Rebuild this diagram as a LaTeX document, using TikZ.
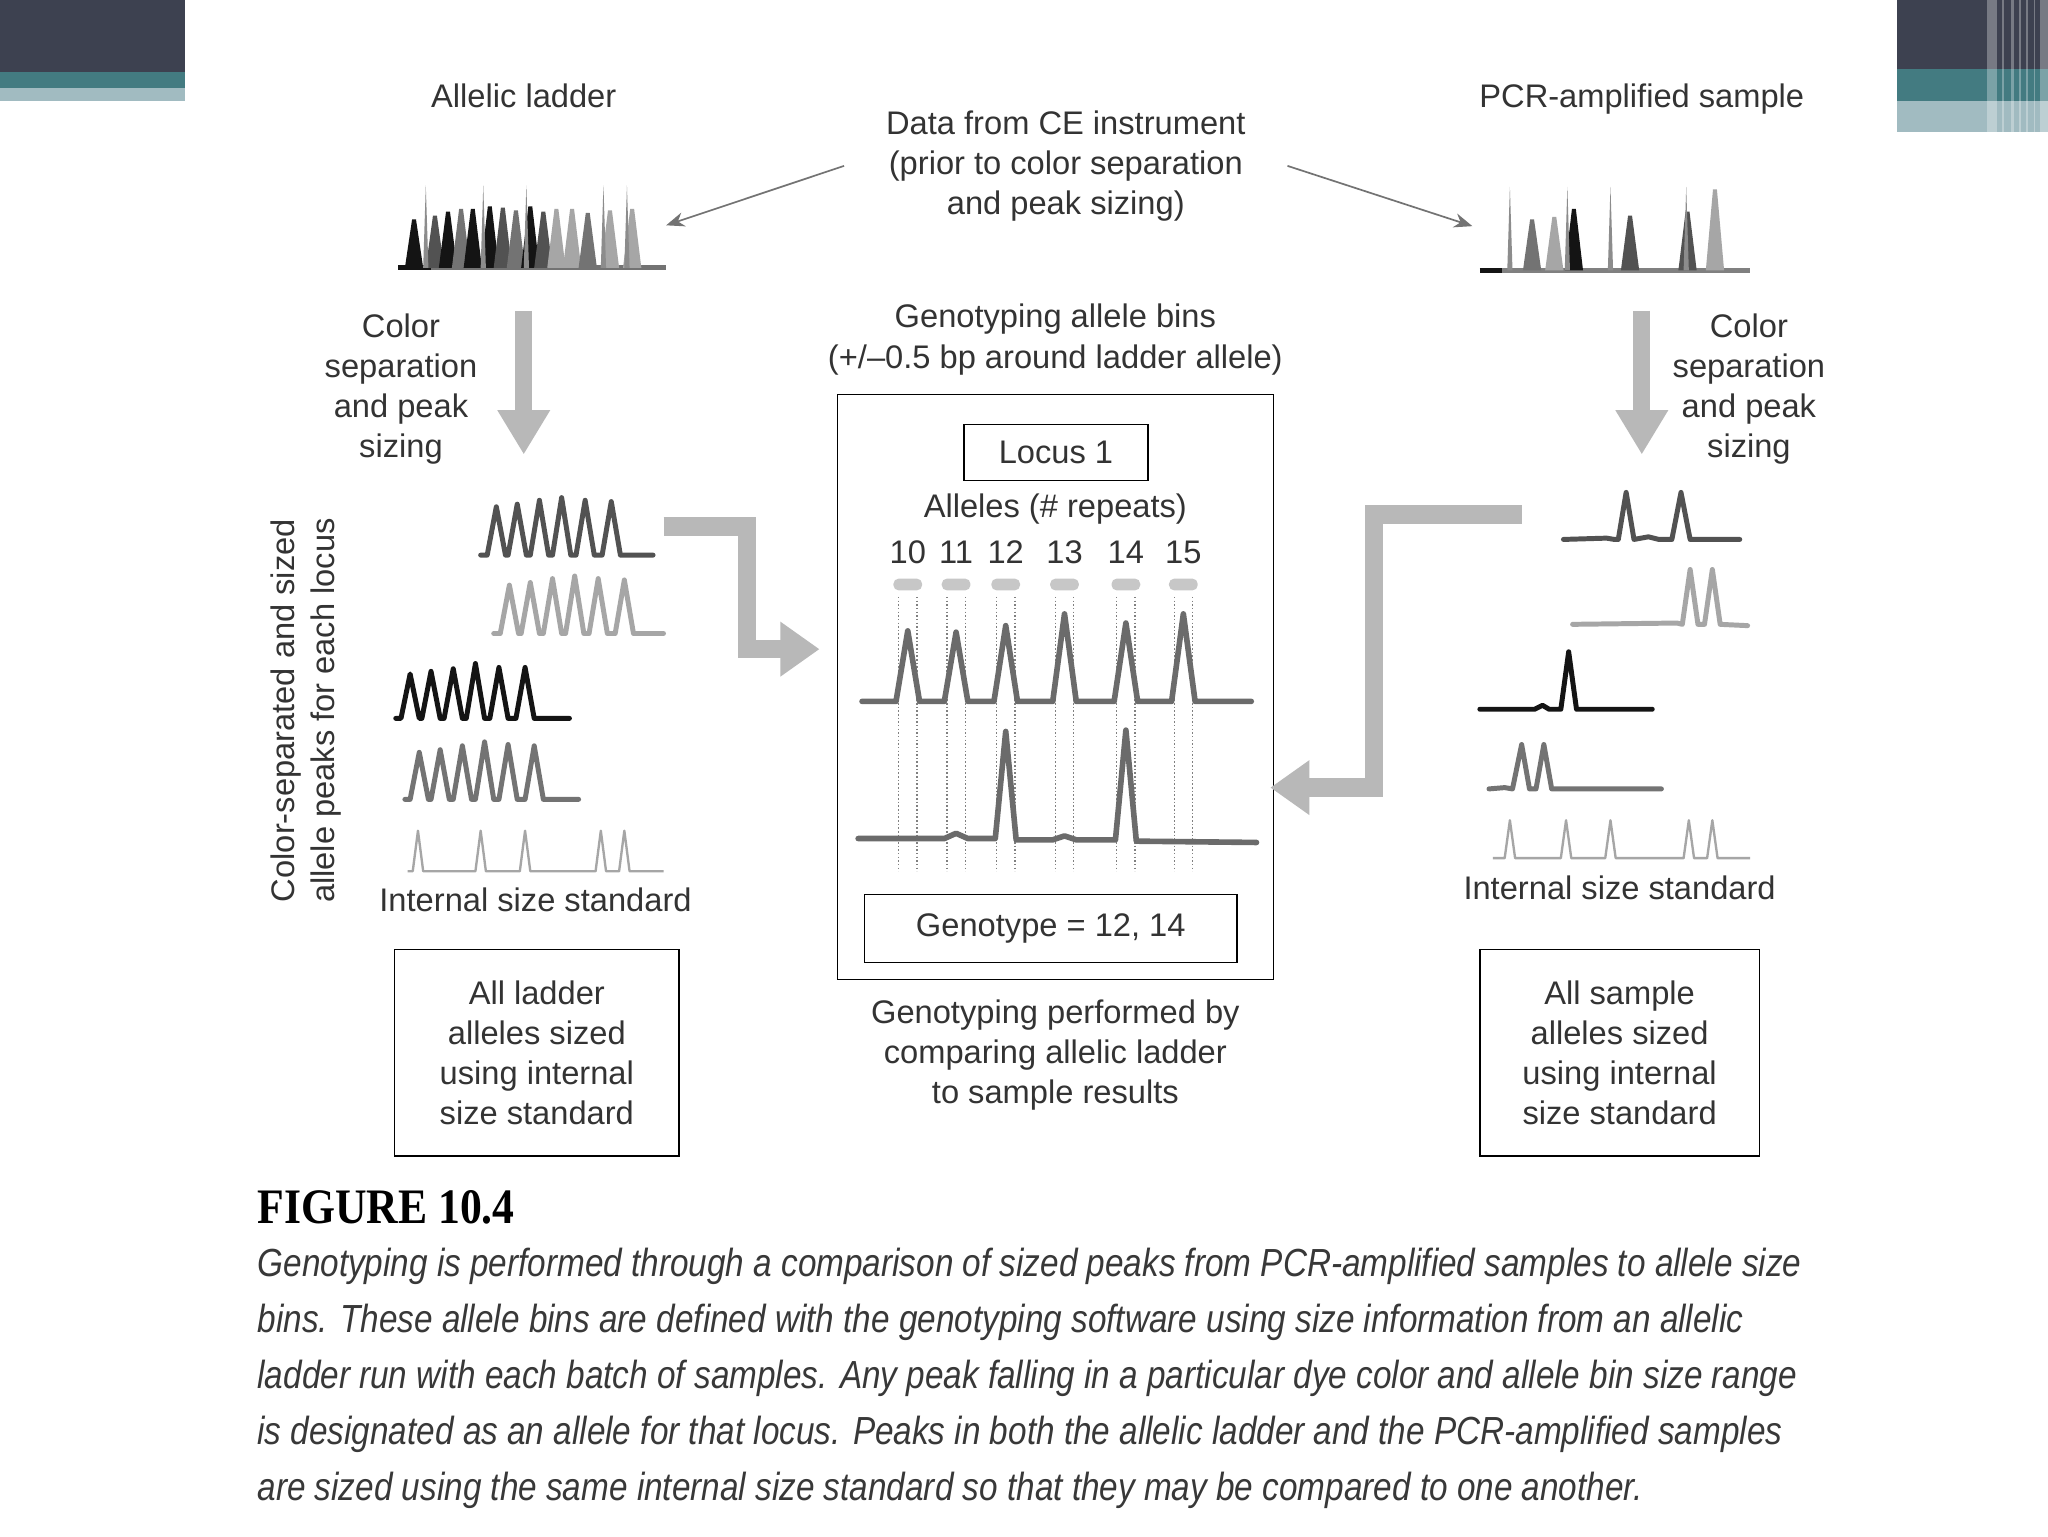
\documentclass[tikz,border=0pt]{standalone}
\usepackage{fontspec}
\setmainfont{Liberation Sans}
\newfontfamily\capfont[FakeStretch=0.85]{Liberation Sans}
\newfontfamily\fignofont[FakeStretch=0.88]{Liberation Serif}
\usetikzlibrary{positioning,arrows.meta,calc}

\definecolor{bannerdark}{HTML}{3D4150}
\definecolor{bannerteal}{HTML}{437B81}
\definecolor{bannerlight}{HTML}{A1BBC1}
\colorlet{labelgray}{black!80}
\colorlet{arrowgray}{black!28}
\colorlet{tracedark}{black!68}
\colorlet{tracemid}{black!55}
\colorlet{tracelight}{black!35}
\colorlet{traceblack}{black!92}

\begin{document}
\begin{tikzpicture}[
    x=1pt, y=-1pt,
    font=\fontsize{25}{30.7}\selectfont,
    lbl/.style={text=labelgray, align=center, inner sep=2pt},
    box/.style={draw, line width=1.1pt, align=center, text=labelgray, inner sep=0pt},
    spot/.style={inner sep=0pt, outer sep=0pt},
    bigarr/.style={draw=arrowgray, line width=13pt, -{Triangle[width=38pt,length=34pt]}},
    thinarr/.style={draw=black!55, line width=1.3pt, -{Stealth[length=14pt,width=11pt]}},
    trace/.style={line width=3.8pt, line join=round, line cap=round},
    stdtrace/.style={line width=1.8pt, tracelight, line join=round},
    binline/.style={black!50, line width=1pt, dash pattern=on 1.2pt off 1.6pt},
]
% page is 1568 x 1176 (units = pt), y grows downwards
\fill[white] (0,0) rectangle (1568,1176);
\useasboundingbox (0,0) rectangle (1568,1176);

% ---------------- slide banners ----------------
\fill[bannerdark] (0,0) rectangle (142,55);
\fill[bannerteal] (0,55) rectangle (142,67);
\fill[bannerlight] (0,67) rectangle (142,77);
\fill[bannerdark] (1452,0) rectangle (1568,53);
\fill[bannerteal] (1452,53) rectangle (1568,77);
\fill[bannerlight] (1452,77) rectangle (1568,101);
\foreach \sx/\sw in {1521/8,1533/1.5,1540/2,1546/1,1551/1.5,1557/1,1562/6}
    \fill[white, opacity=0.3] (\sx,0) rectangle (\sx+\sw,101);

% ---------------- top row: raw data ----------------
\node[lbl, anchor=base] (ladlbl) at (401,82) {Allelic ladder};
\node[lbl, anchor=base] (smplbl) at (1257,82) {PCR-amplified sample};
\node[lbl, inner xsep=32pt] (data) at (816,127) {Data from CE instrument\\(prior to color separation\\and peak sizing)};

% allelic ladder, all colours together
\draw[line width=3.5pt, black!55] (305,205) -- (510,205);
\draw[line width=3.5pt, traceblack] (305,205) -- (330,205);
\foreach \p/\t/\c in {317/168/traceblack, 333/165/tracedark, 343/162/traceblack,
    353/160/tracemid, 362/160/traceblack, 375/158/traceblack, 385/159/tracedark,
    395/161/tracemid, 406/158/traceblack, 416/162/tracedark, 426/160/tracelight,
    438/160/tracelight, 450/163/tracemid, 467/161/tracelight, 484/160/tracelight}
    \fill[fill=\c] (\p-7,205) -- (\p-1.5,\t) -- (\p+1.5,\t) -- (\p+7,205) -- cycle;
\foreach \p in {326,370,403,462,480}
    \fill[black!45] (\p-2,205) -- (\p,142) -- (\p+2,205) -- cycle;
\node[spot, minimum width=218pt, minimum height=65pt] (ladraw) at (401,172.5) {};

% PCR sample, all colours together
\draw[line width=3.5pt, black!50] (1133,207) -- (1340,207);
\draw[line width=3.5pt, traceblack] (1133,207) -- (1150,207);
\foreach \p/\t/\c in {1173/168/tracemid, 1190/166/tracelight, 1205/160/traceblack,
    1248/165/tracedark, 1292/162/tracedark, 1313/145/tracelight}
    \fill[fill=\c] (\p-7,207) -- (\p-1.5,\t) -- (\p+1.5,\t) -- (\p+7,207) -- cycle;
\foreach \p in {1156,1200,1233,1291}
    \fill[black!45] (\p-2,207) -- (\p,143) -- (\p+2,207) -- cycle;
\node[spot, minimum width=248pt, minimum height=64pt] (smpraw) at (1257,175) {};

\draw[thinarr] (data.west) -- (ladraw.east);
\draw[thinarr, shorten >=6pt] (data.east) -- (smpraw.west);

% ---------------- left column: ladder ----------------
\node[lbl] (ladsep) at (307,298) {Color\\separation\\and peak\\sizing};
\node[lbl, rotate=90] (ladside) at (234,544) {Color-separated and sized\\allele peaks for each locus};

\draw[trace, tracedark] (368,425) foreach \p/\t in {380/388,396/386,413/383,430/381,448/383,468/384}
    { -- (\p-7,425) -- (\p,\t) -- (\p+7,425) } -- (500,425);
\draw[trace, tracelight] (378,485) foreach \p/\t in {390/448,406/446,423/443,440/441,458/443,478/444}
    { -- (\p-7,485) -- (\p,\t) -- (\p+7,485) } -- (508,485);
\draw[trace, traceblack] (303,550) foreach \p/\t in {314/516,330/514,347/512,364/508,382/511,402/511}
    { -- (\p-7,550) -- (\p,\t) -- (\p+7,550) } -- (436,550);
\draw[trace, tracemid] (310,612) foreach \p/\t in {321/576,337/574,354/571,371/568,389/570,409/571}
    { -- (\p-7,612) -- (\p,\t) -- (\p+7,612) } -- (443,612);
\draw[stdtrace] (312,667) foreach \p in {320,368,402,460,478}
    { -- (\p-4,667) -- (\p,636) -- (\p+4,667) } -- (508,667);
\node[spot, minimum width=132pt, minimum height=50pt] (lt1) at (434,403) {};
\node[spot, minimum width=130pt, minimum height=48pt] (lt2) at (443,463) {};
\node[spot, minimum width=133pt, minimum height=44pt] (lt3) at (369.5,530) {};
\node[spot, minimum width=133pt, minimum height=46pt] (lt4) at (376.5,591) {};
\node[spot, minimum width=196pt, minimum height=34pt] (lt5) at (410,651) {};

\node[lbl] (ladstd) at (410,689) {Internal size standard};
\node[box, minimum width=218pt, minimum height=158pt] (ladbox) at (411,806)
    {All ladder\\alleles sized\\using internal\\size standard};

% ---------------- centre: genotyping ----------------
\node[lbl] (bins) at (808,260) {Genotyping allele bins\\(+/--0.5 bp around ladder allele)};
\node[box, minimum width=334pt, minimum height=448pt] (gtbox) at (808,526) {};
\node[box, minimum width=141pt, minimum height=43pt] (locus) at (808.5,346.5) {Locus 1};
\node[lbl] (alleles) at (808,390) {Alleles (\# repeats)};
\foreach \a/\x in {10/695,11/732,12/770,13/815,14/862,15/906} {
    \node[lbl, inner sep=0pt] (n\a) at (\x,423) {\a};
    \fill[black!22, rounded corners=4pt] (\x-11,443) rectangle (\x+11,452);
    \draw[binline] (\x-7,457) -- (\x-7,667);
    \draw[binline] (\x+7,457) -- (\x+7,667);
}
\draw[trace, line width=4.3pt, black!58] (660,537)
    foreach \x/\t in {695/483,732/484,770/479,815/470,862/477,906/470}
    { -- (\x-9,537) -- (\x,\t) -- (\x+9,537) } -- (958,537);
\draw[trace, line width=4.3pt, black!58] (657,642) -- (723,642) -- (732,638) -- (741,642)
    -- (762,642) -- (770,560) -- (778,643) -- (806,643) -- (815,640) -- (824,643)
    -- (854,643) -- (862,559) -- (870,644) -- (962,645);
\node[spot, minimum width=300pt, minimum height=80pt] (ladpk) at (809,497) {};
\node[spot, minimum width=305pt, minimum height=84pt] (smppk) at (809,603) {};

\node[box, minimum width=285pt, minimum height=52pt] (geno) at (804.5,711) {Genotype = 12, 14};
\node[lbl] (gtnote) at (808,808) {Genotyping performed by\\comparing allelic ladder\\to sample results};

% ---------------- right column: sample ----------------
\node[lbl] (smpsep) at (1339,298) {Color\\separation\\and peak\\sizing};

\draw[trace, tracedark] (1197,413) -- (1230,412) -- (1236,413) -- (1239,413) -- (1245,377)
    -- (1251,413) -- (1262,411) -- (1270,413) -- (1280,413) -- (1287,377) -- (1294,413) -- (1332,413);
\draw[trace, tracelight] (1204,478) -- (1284,477) -- (1288,478) -- (1294,436) -- (1300,478)
    -- (1305,478) -- (1311,436) -- (1317,478) -- (1338,479);
\draw[trace, traceblack] (1133,543) -- (1175,543) -- (1181,540) -- (1186,543) -- (1195,543)
    -- (1201,499) -- (1207,543) -- (1265,543);
\draw[trace, tracemid] (1140,604) -- (1152,603) -- (1158,604) -- (1165,570) -- (1171,604)
    -- (1176,604) -- (1182,570) -- (1188,604) -- (1272,604);
\draw[stdtrace] (1143,657) foreach \p in {1156,1199,1233,1293,1311}
    { -- (\p-4,657) -- (\p,628) -- (\p+4,657) } -- (1340,657);
\node[spot, minimum width=135pt, minimum height=44pt] (rt1) at (1264.5,394) {};
\node[spot, minimum width=134pt, minimum height=46pt] (rt2) at (1271,457) {};
\node[spot, minimum width=132pt, minimum height=48pt] (rt3) at (1199,521) {};
\node[spot, minimum width=132pt, minimum height=38pt] (rt4) at (1206,587) {};
\node[spot, minimum width=197pt, minimum height=32pt] (rt5) at (1241.5,642) {};

\node[lbl] (smpstd) at (1240,680) {Internal size standard};
\node[box, minimum width=214pt, minimum height=158pt] (smpbox) at (1240,806)
    {All sample\\alleles sized\\using internal\\size standard};

% ---------------- big grey arrows ----------------
\draw[bigarr, shorten <=33pt, shorten >=30pt] (ladraw.south) -- (ladraw.south |- lt1.north);
\draw[bigarr, shorten <=31pt, shorten >=24pt] (smpraw.south) -- (smpraw.south |- rt1.north);
\draw[bigarr, line width=14pt, -{Triangle[width=40pt,length=30pt]}, shorten <=8pt, shorten >=13pt]
    (lt1.east) -- ++(72,0) |- (gtbox.west |- ladpk.center);
\draw[bigarr, line width=14pt, -{Triangle[width=40pt,length=30pt]}, shorten <=32pt, shorten >=-3pt]
    (rt1.west) -- ++(-145,0) |- (gtbox.east |- smppk.center);

% ---------------- caption ----------------
\node[anchor=base west, inner sep=0pt, font=\fontsize{38}{40}\fignofont\bfseries] (figno)
    at (197,937) {FIGURE 10.4};
\node[anchor=north west, inner sep=0pt, align=left, text=black!78,
      font=\fontsize{30}{43}\capfont\itshape] (caption) at (197,955)
    {Genotyping is performed through a comparison of sized peaks from PCR-amplified samples to allele size\\
     bins. These allele bins are defined with the genotyping software using size information from an allelic\\
     ladder run with each batch of samples. Any peak falling in a particular dye color and allele bin size range\\
     is designated as an allele for that locus. Peaks in both the allelic ladder and the PCR-amplified samples\\
     are sized using the same internal size standard so that they may be compared to one another.};
\end{tikzpicture}
\end{document}
